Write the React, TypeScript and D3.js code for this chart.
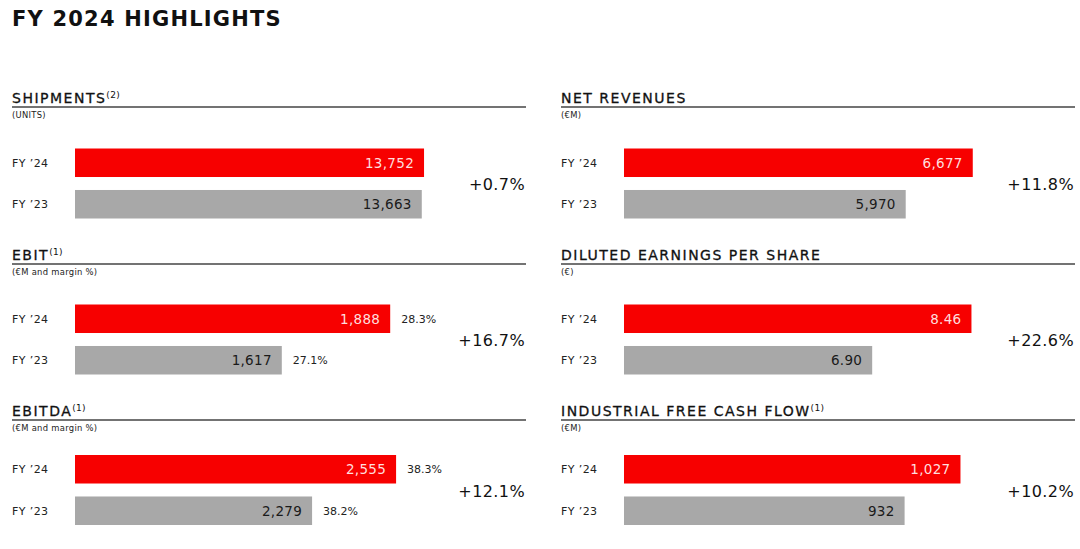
import * as d3 from "d3";

const width = 1080;
const height = 549;

// panel data, read left-to-right, top-to-bottom
const metrics = [
  "SHIPMENTS",
  "NET REVENUES",
  "EBIT",
  "DILUTED EARNINGS PER SHARE",
  "EBITDA",
  "INDUSTRIAL FREE CASH FLOW",
];
const notes = ["(2)", "", "(1)", "", "(1)", "(1)"];
const units = ["(UNITS)", "(€M)", "(€M and margin %)", "(€)", "(€M and margin %)", "(€M)"];
const years = ["FY ’24", "FY ’23"];
const fy24 = [13752, 6677, 1888, 8.46, 2555, 1027];
const fy23 = [13663, 5970, 1617, 6.9, 2279, 932];
const margin24 = [null, null, 28.3, null, 38.3, null];
const margin23 = [null, null, 27.1, null, 38.2, null];
const changes = [0.7, 11.8, 16.7, 22.6, 12.1, 10.2];
const decimals = [0, 0, 0, 2, 0, 0];
// the bars do not start at zero, each panel has its own axis window
const axisMin = [0, 3000, 1100, 3, 1500, 455];
const axisMax = [13790, 6690, 1975, 8.5, 2650, 1050];

const colX = [12, 561];
const panelW = 514;
const ruleY = [107, 264, 420];
const barTop = [148.5, 304.5, 455];
const barOffset = 63;
const barMaxW = 350;

const red = "#f70000";
const gray = "#a8a8a8";
const font = "'DejaVu Sans', sans-serif";

const changeFmt = d3.format("+.1f");

export default function App() {
  return (
    <svg
      width={width}
      height={height}
      viewBox={`0 0 ${width} ${height}`}
      style={{ position: "absolute", left: 0, top: 0, background: "#fff", fontFamily: font }}
    >
      <text x={12} y={26} fontSize={21} fontWeight={700} letterSpacing={1.2} fill="#111">
        FY 2024 HIGHLIGHTS
      </text>

      {metrics.map((name, i) => {
        const col = i % 2;
        const row = Math.floor(i / 2);
        const x0 = colX[col];
        const ry = ruleY[row];
        const bx = x0 + barOffset;

        const x = d3.scaleLinear().domain([axisMin[i], axisMax[i]]).range([0, barMaxW]);
        const y = d3
          .scaleBand<string>()
          .domain(years)
          .range([barTop[row], barTop[row] + 70])
          .paddingInner(0.313);

        const fmt = d3.format(decimals[i] ? `,.${decimals[i]}f` : ",");
        const vals = [fy24[i], fy23[i]];
        const margins = [margin24[i], margin23[i]];
        const midY = (y(years[0])! + y(years[1])! + y.bandwidth()) / 2;

        return (
          <g key={name}>
            <text x={x0} y={ry - 4} fontSize={14} letterSpacing={1.5} fill="#111" stroke="#111" strokeWidth={0.3}>
              {name}
              {notes[i] && (
                <tspan fontSize={9} dy={-5} letterSpacing={0.3} strokeWidth={0}>
                  {notes[i]}
                </tspan>
              )}
            </text>
            <line x1={x0} x2={x0 + panelW} y1={ry} y2={ry} stroke="#444" strokeWidth={1.5} />
            <text x={x0} y={ry + 11} fontSize={8.4} letterSpacing={0.3} fill="#222">
              {units[i]}
            </text>

            {years.map((yr, j) => {
              const w = x(vals[j]);
              const top = y(yr)!;
              const cy = top + y.bandwidth() / 2;
              return (
                <g key={yr}>
                  <text x={x0} y={cy} dy="0.35em" fontSize={11} letterSpacing={0.4} fill="#222">
                    {yr}
                  </text>
                  <rect x={bx} y={top} width={w} height={y.bandwidth()} fill={j === 0 ? red : gray} />
                  <text
                    x={bx + w - 10}
                    y={cy}
                    dy="0.36em"
                    textAnchor="end"
                    fontSize={13.5}
                    letterSpacing={0.3}
                    fill={j === 0 ? "#ffdede" : "#1a1a1a"}
                  >
                    {fmt(vals[j])}
                  </text>
                  {margins[j] != null && (
                    <text x={bx + w + 11} y={cy} dy="0.35em" fontSize={11} fill="#222">
                      {`${margins[j]!.toFixed(1)}%`}
                    </text>
                  )}
                </g>
              );
            })}

            <text
              x={x0 + panelW - 1}
              y={midY + 1}
              dy="0.35em"
              textAnchor="end"
              fontSize={16}
              letterSpacing={0.4}
              fill="#111"
            >
              {`${changeFmt(changes[i])}%`}
            </text>
          </g>
        );
      })}
    </svg>
  );
}
